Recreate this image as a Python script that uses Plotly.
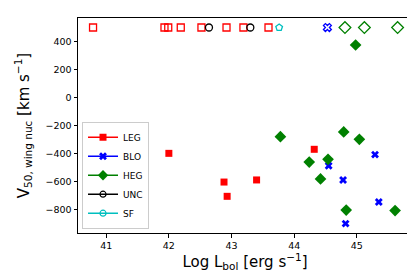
import plotly.graph_objects as go

# LEG (red squares)
leg_x = [42.0, 42.88, 42.93, 43.40, 44.32]
leg_y = [-399, -604, -706, -589, -370]
leg_up_x = [40.79, 41.93, 41.99, 42.19, 42.52, 42.92, 43.19, 43.59]
# BLO (blue X)
blo_x = [45.29, 44.55, 44.78, 45.35, 44.82]
blo_y = [-408, -487, -589, -746, -901]
blo_up_x = [44.53]
# HEG (green diamonds)
heg_x = [44.98, 43.78, 44.79, 45.04, 44.24, 44.54, 44.42, 44.83, 45.61]
heg_y = [375, -280, -246, -299, -461, -442, -582, -804, -808]
heg_up_x = [44.81, 45.12, 45.65]
# UNC (black circles), SF (cyan pentagon)
unc_up_x = [42.64, 43.30]
sf_up_x = [43.76]
upper_value = 500

RED, BLUE, GREEN, BLACK, CYAN = "#ff0000", "#0000ff", "#008000", "#000000", "#00bfbf"

fig = go.Figure()

def up(xs):
    return [upper_value] * len(xs)

fig.add_trace(go.Scatter(x=leg_x, y=leg_y, mode="markers", showlegend=False,
                         marker=dict(symbol="square", size=7, color=RED)))
fig.add_trace(go.Scatter(x=leg_up_x, y=up(leg_up_x), mode="markers", showlegend=False,
                         marker=dict(symbol="square-open", size=7, color=RED, line=dict(width=1.3))))
fig.add_trace(go.Scatter(x=blo_x, y=blo_y, mode="markers", showlegend=False,
                         marker=dict(symbol="x", size=7, color=BLUE, line=dict(width=0))))
fig.add_trace(go.Scatter(x=blo_up_x, y=up(blo_up_x), mode="markers", showlegend=False,
                         marker=dict(symbol="x-open", size=7, color=BLUE, line=dict(width=1.3))))
fig.add_trace(go.Scatter(x=heg_x, y=heg_y, mode="markers", showlegend=False,
                         marker=dict(symbol="diamond", size=9, color=GREEN)))
fig.add_trace(go.Scatter(x=heg_up_x, y=up(heg_up_x), mode="markers", showlegend=False,
                         marker=dict(symbol="diamond-open", size=9, color=GREEN, line=dict(width=1.3))))
fig.add_trace(go.Scatter(x=unc_up_x, y=up(unc_up_x), mode="markers", showlegend=False,
                         marker=dict(symbol="circle-open", size=7, color=BLACK, line=dict(width=1.3))))
fig.add_trace(go.Scatter(x=sf_up_x, y=up(sf_up_x), mode="markers", showlegend=False,
                         marker=dict(symbol="pentagon-open", size=7, color=CYAN, line=dict(width=1.3))))

# legend entries
for name, col, sym, sz in [("LEG", RED, "square", 7), ("BLO", BLUE, "x", 7),
                           ("HEG", GREEN, "diamond", 8), ("UNC", BLACK, "circle-open", 6),
                           ("SF", CYAN, "circle-open", 6)]:
    fig.add_trace(go.Scatter(x=[None], y=[None], mode="lines+markers", name=name,
                             line=dict(color=col, width=1.5),
                             marker=dict(symbol=sym, size=sz, color=col, line=dict(width=1.2) if "open" in sym else dict(width=0))))

axis_common = dict(showgrid=False, zeroline=False, showline=True, linecolor="black", linewidth=1,
                   mirror=True, ticks="outside", ticklen=3.5, tickcolor="black",
                   tickfont=dict(family="DejaVu Sans", size=9.5, color="black"))

fig.update_layout(
    width=415, height=277,
    margin=dict(l=70, r=11, t=10, b=52),
    paper_bgcolor="white", plot_bgcolor="white",
    font=dict(family="DejaVu Sans", color="black"),
    xaxis=dict(range=[40.55, 45.88], tickvals=[41, 42, 43, 44, 45],
               title=dict(text="Log L<sub>bol</sub> [erg s<sup>−1</sup>]", font=dict(size=15), standoff=0),
               **axis_common),
    yaxis=dict(range=[-968, 568], tickvals=[-800, -600, -400, -200, 0, 200, 400],
               title=dict(text="V<sub>50, wing nuc</sub> [km s<sup>−1</sup>]", font=dict(size=15), standoff=12),
               **axis_common),
    legend=dict(x=0.012, y=0.02, xanchor="left", yanchor="bottom",
                bgcolor="rgba(255,255,255,0.8)", bordercolor="#cccccc", borderwidth=1,
                font=dict(size=9), itemwidth=30, tracegroupgap=0),
)

fig.write_html("out.html")
